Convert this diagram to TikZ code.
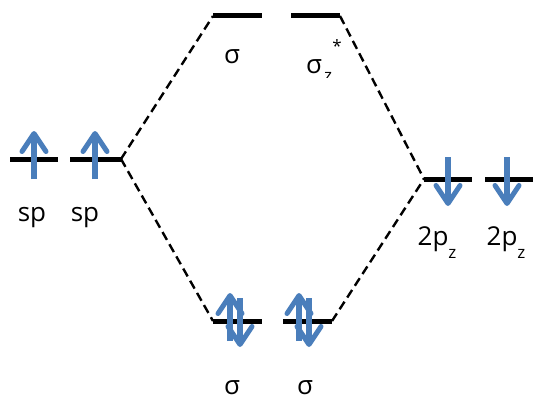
\documentclass[tikz,border=0pt]{standalone}
\usepackage{fontspec}
\setmainfont{Open Sans}
\usetikzlibrary{arrows.meta}
\definecolor{eblue}{HTML}{4A7EBB}
\tikzset{
  lvl/.style={line width=5pt},
  conn/.style={line width=2.4pt, dash pattern=on 9pt off 5pt},
  spin/.style={eblue, line width=5.5pt, -{Straight Barb[length=18pt,width=24pt,line width=5pt,round]}},
  lbl/.style={font=\fontsize{26}{30}\selectfont, inner sep=0pt},
  sub/.style={font=\fontsize{17}{20}\selectfont, inner sep=0pt}
}
\newcommand{\subz}{\raisebox{-13pt}{\fontsize{17}{20}\selectfont z}}
\begin{document}
\begin{tikzpicture}[x=1pt,y=-1pt]
\useasboundingbox (0,0) rectangle (534,396);
% levels
\coordinate (a1) at (10,159); \coordinate (a2) at (58,159);
\coordinate (b1) at (70,159); \coordinate (b2) at (121,159);
\coordinate (s1) at (213,16); \coordinate (s2) at (262,16);
\coordinate (t1) at (291,16); \coordinate (t2) at (340,16);
\coordinate (p1) at (424,179); \coordinate (p2) at (472,179);
\coordinate (q1) at (485,179); \coordinate (q2) at (533,179);
\coordinate (u1) at (213,321); \coordinate (u2) at (262,321);
\coordinate (v1) at (283,321); \coordinate (v2) at (332,321);
% connectors
\draw[conn] (b2) -- (s1);
\draw[conn] (b2) -- (u1);
\draw[conn] (t2) -- (p1);
\draw[conn] (v2) -- (p1);
\foreach \l/\r in {a1/a2,b1/b2,s1/s2,t1/t2,p1/p2,q1/q2,u1/u2,v1/v2}
  \draw[lvl] (\l) -- (\r);
% spins
\draw[spin] (34,179) -- (34,131);
\draw[spin] (95,179) -- (95,131);
\draw[spin] (448,157) -- (448,206);
\draw[spin] (507,157) -- (507,206);
\draw[spin] (230,341) -- (230,293);
\draw[spin] (240,298) -- (240,347);
\draw[spin] (299,341) -- (299,293);
\draw[spin] (309,298) -- (309,347);
% labels
\node[lbl] (l1) at (32,218) {sp};
\node[lbl] (l2) at (85,218) {sp};
\node[lbl] (l3) at (232,57) {σ};
\begin{scope}
\clip (280,0) rectangle (360,77);
\node[lbl, anchor=base] (l4) at (314,73) {σ};
\node[sub] (l4s) at (337,46) {*};
\node[sub, anchor=north] (l4b) at (328,72) {z};
\end{scope}
\node[lbl] (l5) at (437,243) {2p\subz};
\node[lbl] (l6) at (506,243) {2p\subz};
\node[lbl] (l7) at (232,388) {σ};
\node[lbl] (l8) at (305,388) {σ};
\end{tikzpicture}
\end{document}
